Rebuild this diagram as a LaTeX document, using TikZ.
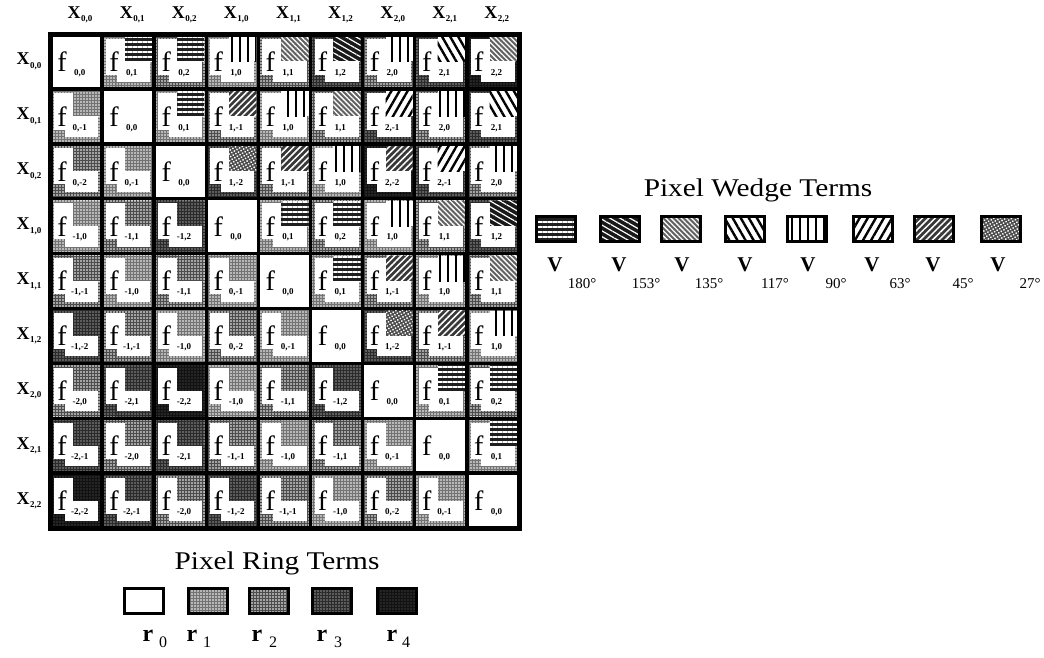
\documentclass[tikz,border=0pt]{standalone}
\usepackage{fontspec}
\setmainfont{Liberation Serif}
\newfontfamily\widefont[FakeStretch=1.15]{Liberation Serif}
\usetikzlibrary{patterns.meta}
\tikzset{
  ring0/.style={fill=white},
  ring1/.style={preaction={fill=black!55},pattern={Dots[radius=0.95pt,distance=3pt]},pattern color=white},
  ring2/.style={preaction={fill=black!70},pattern={Dots[radius=0.85pt,distance=3pt]},pattern color=white},
  ring3/.style={preaction={fill=black!83},pattern={Dots[radius=0.65pt,distance=3pt]},pattern color=white},
  ring4/.style={preaction={fill=black!93},pattern={Dots[radius=0.45pt,distance=3pt]},pattern color=white},
  wedge180/.style={preaction={fill=black!88},pattern={Lines[angle=0,distance=5pt,line width=1.6pt]},pattern color=white},
  wedge153/.style={preaction={fill=black!90},pattern={Lines[angle=-30,distance=5pt,line width=1.2pt]},pattern color=white},
  wedge135/.style={preaction={fill=black!62},pattern={Lines[angle=-45,distance=3.6pt,line width=1.3pt]},pattern color=white},
  wedge117/.style={preaction={fill=white},pattern={Lines[angle=-60,distance=7pt,line width=2.4pt]},pattern color=black},
  wedge90/.style={preaction={fill=white},pattern={Lines[angle=90,distance=8pt,line width=2.5pt]},pattern color=black},
  wedge63/.style={preaction={fill=white},pattern={Lines[angle=60,distance=7pt,line width=2.4pt]},pattern color=black},
  wedge45/.style={preaction={fill=black!78},pattern={Lines[angle=45,distance=4.5pt,line width=1.5pt]},pattern color=white},
  wedge27/.style={preaction={fill=black!70},pattern={Dots[angle=30,radius=1pt,distance=3pt]},pattern color=white},
  ftext/.style={inner sep=0pt,font=\fontsize{28}{28}\selectfont},
  subtext/.style={inner sep=0pt,font=\fontsize{9}{9}\selectfont\bfseries},
  xlab/.style={inner sep=0pt,font=\fontsize{18}{18}\selectfont\bfseries},
  legbox/.style={draw,line width=3pt,minimum width=39pt,minimum height=25pt,inner sep=0pt},
  title/.style={inner sep=0pt,font=\widefont\fontsize{25.5}{25.5}\selectfont},
  vlab/.style={inner sep=0pt,font=\fontsize{21}{21}\selectfont\bfseries},
  vsub/.style={inner sep=0pt,font=\fontsize{15}{15}\selectfont},
  rlab/.style={inner sep=0pt,font=\fontsize{24}{24}\selectfont\bfseries},
  rsub/.style={inner sep=0pt,font=\fontsize{16}{16}\selectfont},
}
\newcommand{\Xsub}[2]{X\kern0.5pt\raisebox{-3.5pt}{\fontsize{9}{9}\selectfont\bfseries #1,#2}}
\begin{document}
\begin{tikzpicture}[x=1pt,y=-1pt]
\useasboundingbox (0,0) rectangle (1044,657);
\def\cw{52.1}\def\ch{54.9}
% labels
\foreach \k in {0,...,8}{
  \pgfmathtruncatemacro\ki{int(\k/3)}
  \pgfmathtruncatemacro\kj{mod(\k,3)}
  \node[xlab] (col\k) at ({50+(\k+0.5)*\cw+4},15) {\Xsub{\ki}{\kj}};
  \node[xlab] (row\k) at (29,{34+(\k+0.5)*\ch}) {\Xsub{\ki}{\kj}};
}
% cells
\foreach \r in {0,...,8}{
 \foreach \c in {0,...,8}{
  \pgfmathtruncatemacro\ri{int(\r/3)}
  \pgfmathtruncatemacro\rj{mod(\r,3)}
  \pgfmathtruncatemacro\ci{int(\c/3)}
  \pgfmathtruncatemacro\cj{mod(\c,3)}
  \pgfmathtruncatemacro\da{\ci-\ri}
  \pgfmathtruncatemacro\db{\cj-\rj}
  \pgfmathtruncatemacro\rn{abs(\da)+abs(\db)}
  \pgfmathsetmacro\x{50+\c*\cw}
  \pgfmathsetmacro\y{34+\r*\ch}
  \ifnum\rn>0
    \tikzset{curr/.style/.expanded={ring\rn}}
    \ifnum\c>\r
      \pgfmathtruncatemacro\ang{round(atan2(\da,0-\db))}
      \tikzset{curw/.style/.expanded={wedge\ang}}
    \else
      \tikzset{curw/.style/.expanded={ring\rn}}
    \fi
    \path[curr] (\x,\y) rectangle ++(\cw,\ch);
    \fill[white] ({\x+4},{\y+4.5}) rectangle ({\x+\cw-4},{\y+\ch-7});
    \path[curw] ({\x+0.44*\cw},{\y+2}) rectangle ({\x+\cw-2},{\y+0.5*\ch});
    \path[curr] ({\x+2},{\y+0.74*\ch}) rectangle ({\x+0.28*\cw},{\y+\ch-2});
  \else
    \fill[white] (\x,\y) rectangle ++(\cw,\ch);
  \fi
  \node[ftext] (f\r-\c) at ({\x+0.23*\cw},{\y+0.5*\ch}) {f};
  \node[subtext] (s\r-\c) at ({\x+0.57*\cw},{\y+0.71*\ch}) {\da,\db};
  \draw[line width=3.5pt] (\x,\y) rectangle ++(\cw,\ch);
 }
}
\draw[line width=5pt] (50,34) rectangle (519,528);
% wedge legend
\node[title] (wtitle) at (758,190) {Pixel Wedge Terms};
\node[legbox,wedge180] (w1) at (556,229) {};
\node[legbox,wedge153] (w2) at (619.5,229) {};
\node[legbox,wedge135] (w3) at (681,229) {};
\node[legbox,wedge117] (w4) at (745,229) {};
\node[legbox,wedge90]  (w5) at (807,229) {};
\node[legbox,wedge63]  (w6) at (872.5,229) {};
\node[legbox,wedge45]  (w7) at (933.5,229) {};
\node[legbox,wedge27]  (w8) at (1001,229) {};
\node[vlab] (v1) at (555,265) {V};   \node[vsub] (vs1) at (582,284) {180°};
\node[vlab] (v2) at (619,265) {V};   \node[vsub] (vs2) at (646,284) {153°};
\node[vlab] (v3) at (682,265) {V};   \node[vsub] (vs3) at (709,284) {135°};
\node[vlab] (v4) at (745,265) {V};   \node[vsub] (vs4) at (775,284) {117°};
\node[vlab] (v5) at (808,265) {V};   \node[vsub] (vs5) at (836,284) {90°};
\node[vlab] (v6) at (872,265) {V};   \node[vsub] (vs6) at (900,284) {63°};
\node[vlab] (v7) at (933,265) {V};   \node[vsub] (vs7) at (963,284) {45°};
\node[vlab] (v8) at (998,265) {V};   \node[vsub] (vs8) at (1030,284) {27°};
% ring legend
\node[title] (rtitle) at (277,563) {Pixel Ring Terms};
\node[legbox,ring0] (b0) at (143.5,601) {};
\node[legbox,ring1] (b1) at (207.5,601) {};
\node[legbox,ring2] (b2) at (269,601) {};
\node[legbox,ring3] (b3) at (332,601) {};
\node[legbox,ring4] (b4) at (396.5,601) {};
\node[rlab] (r0) at (148,636) {r}; \node[rsub] (rs0) at (163,642) {0};
\node[rlab] (r1) at (192,636) {r}; \node[rsub] (rs1) at (207,642) {1};
\node[rlab] (r2) at (257,636) {r}; \node[rsub] (rs2) at (273,642) {2};
\node[rlab] (r3) at (322,636) {r}; \node[rsub] (rs3) at (338,642) {3};
\node[rlab] (r4) at (392,636) {r}; \node[rsub] (rs4) at (406,642) {4};
\end{tikzpicture}
\end{document}
